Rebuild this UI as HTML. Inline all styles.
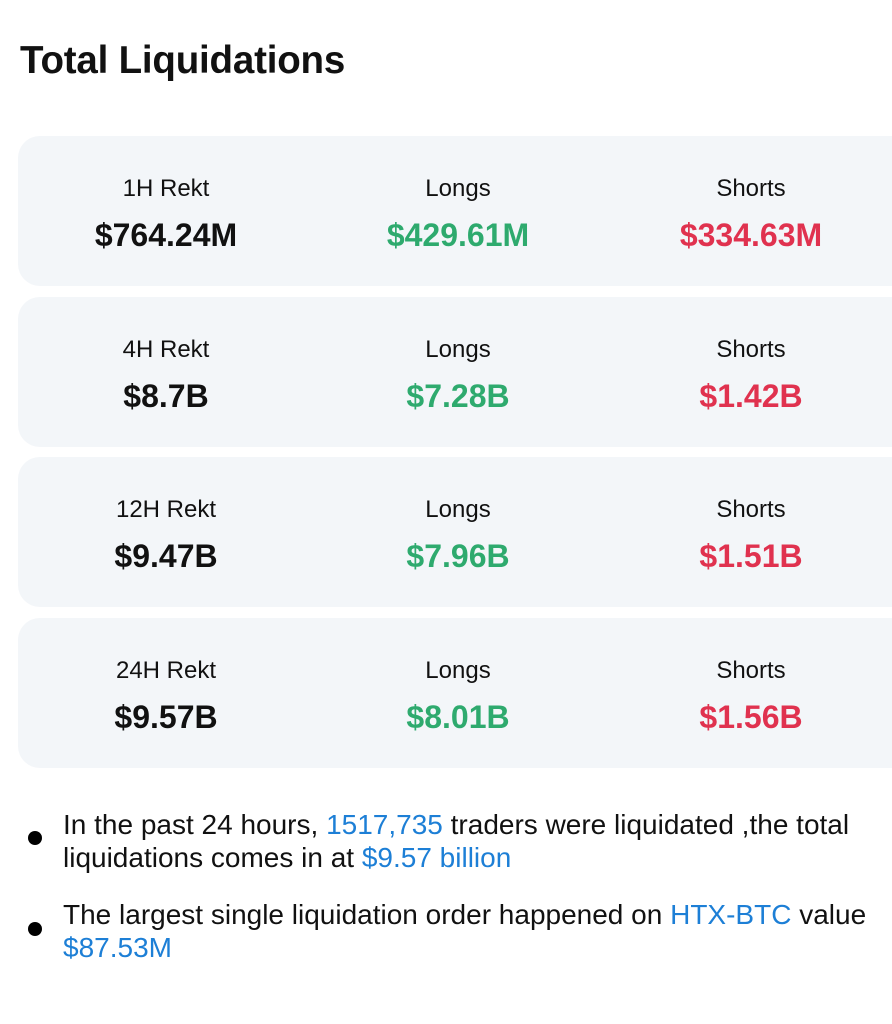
<!DOCTYPE html>
<html><head><meta charset="utf-8"><style>
body{margin:0;width:892px;height:1024px;background:#fff;font-family:"Liberation Sans",sans-serif;overflow:hidden;position:relative;color:#111}
h1{position:absolute;left:20px;top:39px;margin:0;font-size:38.5px;font-weight:bold;letter-spacing:-0.2px}
.card{position:absolute;left:18px;width:900px;height:150px;background:#f3f6f9;border-radius:22px}
.col{position:absolute;width:300px;text-align:center;transform:translateX(-150px)}
.lab{position:absolute;top:39px;font-size:24px;color:#111}
.val{position:absolute;top:81px;font-size:32px;font-weight:bold}
.g{color:#2eaa6e}.r{color:#e0324f}.b{color:#1d7fd6}
.bul{position:absolute;left:28px;width:14px;height:14px;border-radius:50%;background:#000}
.line{position:absolute;left:63px;font-size:28px;white-space:nowrap}
</style></head><body>
<h1>Total Liquidations</h1>
<div id="cards"></div>
<div class="bul" style="top:831px"></div>
<div class="line" style="top:809px">In the past 24 hours, <span class="b">1517,735</span> traders were liquidated ,the total</div>
<div class="line" style="top:842px">liquidations comes in at <span class="b">$9.57 billion</span></div>
<div class="bul" style="top:922px"></div>
<div class="line" style="top:899px">The largest single liquidation order happened on <span class="b">HTX-BTC</span> value</div>
<div class="line" style="top:932px"><span class="b">$87.53M</span></div>
<script>
const periods=["1H Rekt","4H Rekt","12H Rekt","24H Rekt"];
const totals=["$764.24M","$8.7B","$9.47B","$9.57B"];
const longs=["$429.61M","$7.28B","$7.96B","$8.01B"];
const shorts=["$334.63M","$1.42B","$1.51B","$1.56B"];
const wrap=document.getElementById('cards');
periods.forEach((p,i)=>{
  const c=document.createElement('div');c.className='card';c.style.top=(136+i*160.7)+'px';
  
  
  const cols=[[p,totals[i],''],["Longs",longs[i],'g'],["Shorts",shorts[i],'r']];
  const xs=[148,440,733];
  cols.forEach((cd,j)=>{
    const l=document.createElement('div');l.className='col lab';l.style.left=xs[j]+'px';l.textContent=cd[0];
    
    
    const v=document.createElement('div');v.className='col val '+cd[2];v.style.left=xs[j]+'px';v.textContent=cd[1];
    
    
    c.appendChild(l);c.appendChild(v);
  });
  wrap.appendChild(c);
});
</script>
</body></html>
